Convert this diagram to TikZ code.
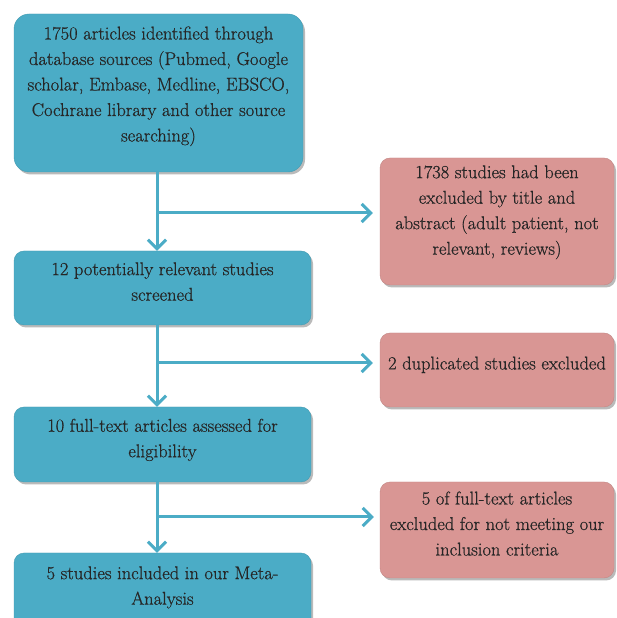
\documentclass[tikz,border=0pt]{standalone}
\usepackage{fontspec}
\newfontfamily\boxfont{Latin Modern Roman}[FakeBold=0.7]
\usetikzlibrary{arrows.meta,shadows}
\definecolor{bluebox}{HTML}{4BACC6}
\definecolor{redbox}{HTML}{D99694}
\definecolor{bluearrow}{HTML}{4BACC6}
\tikzset{
  x=1pt,y=1pt,
  boxbase/.style={rounded corners=10pt, align=center, inner sep=4pt,
    font=\boxfont\fontsize{18.5}{25.5}\selectfont, text=black!85,
    drop shadow={shadow xshift=2pt, shadow yshift=-2.5pt, fill=black!45, opacity=0.6}},
  bluestep/.style={boxbase, fill=bluebox, draw=bluebox!90!black, line width=0.4pt},
  redstep/.style={boxbase, fill=redbox, draw=redbox!90!black, line width=0.4pt},
  flow/.style={draw=bluearrow, line width=3pt, -{Straight Barb[length=9pt,width=18pt,line width=3pt]}}
}
\begin{document}
\begin{tikzpicture}
\useasboundingbox (0,0) rectangle (616,618);
\clip (0,0) rectangle (616,618);
\fill[white] (0,0) rectangle (616,618);
\node[bluestep, rounded corners=15pt, minimum width=289pt, minimum height=158pt, text depth=18pt] (b1) at (158.5,525)
  {1750 articles identified through\\database sources (Pubmed, Google\\scholar, Embase, Medline, EBSCO,\\Cochrane library and other source\\searching)};
\node[bluestep, minimum width=297pt, minimum height=74pt, text depth=13pt] (b2) at (162.5,330)
  {12 potentially relevant studies\\screened};
\node[bluestep, minimum width=297pt, minimum height=75pt, text depth=13pt] (b3) at (162.5,173.5)
  {10 full-text articles assessed for\\eligibility};
\node[bluestep, minimum width=297pt, minimum height=78pt, text depth=13pt] (b4) at (162.5,26)
  {5 studies included in our Meta-\\Analysis};
\node[redstep, minimum width=234pt, minimum height=127pt, text depth=23pt] (r1) at (497,396.5)
  {1738 studies had been\\excluded by title and\\abstract (adult patient, not\\relevant, reviews)};
\node[redstep, minimum width=234pt, minimum height=74pt, text depth=14pt] (r2) at (497,248)
  {2 duplicated studies excluded};
\node[redstep, minimum width=234pt, minimum height=96pt, text depth=13pt] (r3) at (497,88)
  {5 of full-text articles\\excluded for not meeting our\\inclusion criteria};
\coordinate (spine) at (157,0);
\coordinate (j1) at (157,405);
\coordinate (j2) at (157,255);
\coordinate (j3) at (157,101);
\draw[flow] (b1.south -| spine) -- (b2.north -| spine);
\draw[flow] (b2.south -| spine) -- (b3.north -| spine);
\draw[flow] (b3.south -| spine) -- (b4.north -| spine);
\draw[flow, shorten >=7pt] (j1) -- (j1 -| r1.west);
\draw[flow, shorten >=7pt] (j2) -- (j2 -| r2.west);
\draw[flow, shorten >=6pt] (j3) -- (j3 -| r3.west);
\end{tikzpicture}
\end{document}
